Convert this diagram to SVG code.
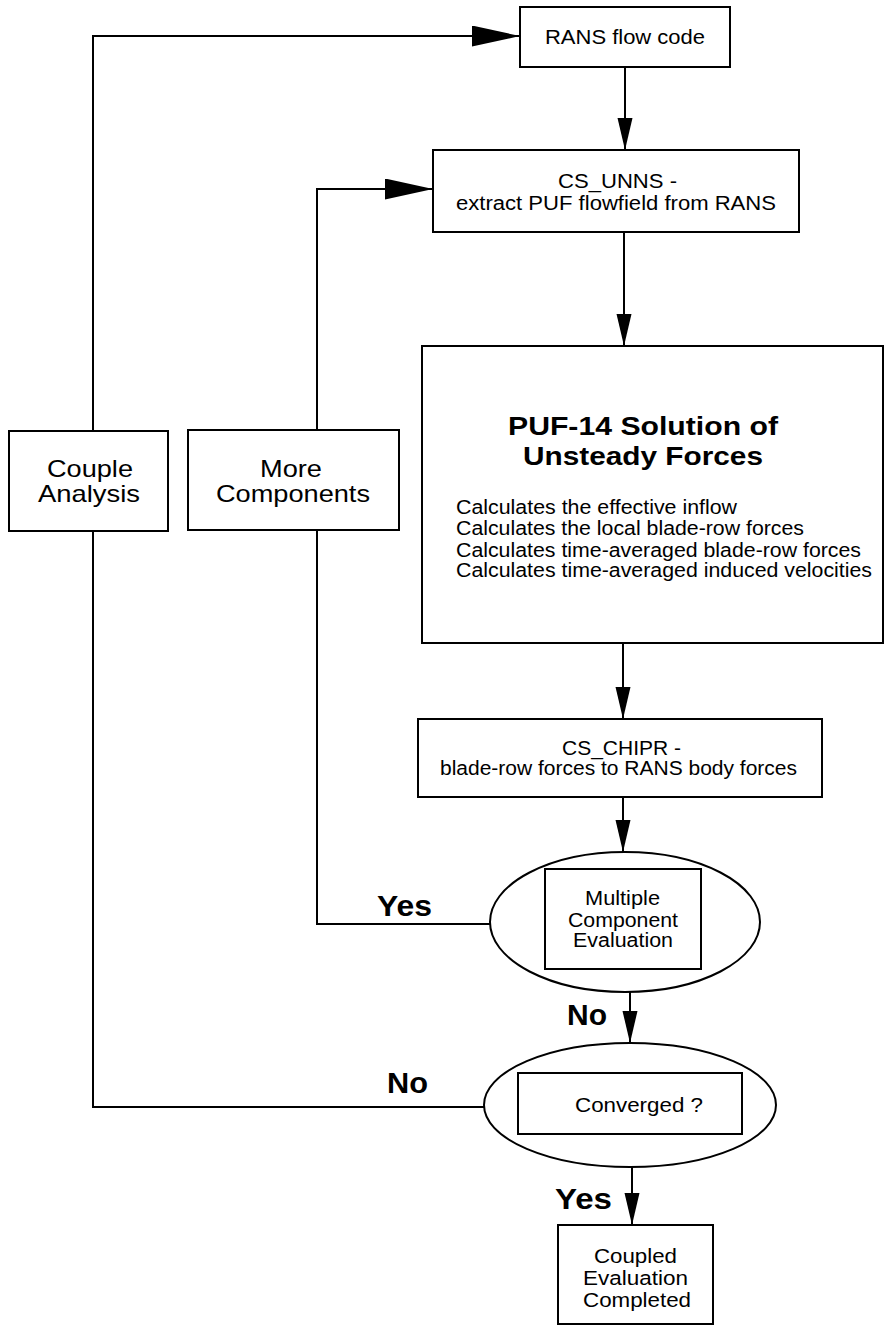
<svg xmlns="http://www.w3.org/2000/svg" width="884" height="1331" viewBox="0 0 884 1331">
<style>
  .box { fill: #fff; stroke: #000; stroke-width: 2; }
  .line { fill: none; stroke: #000; stroke-width: 2; }
  .t { font-family: "Liberation Sans", Arial, sans-serif; fill: #000; }
  .b { font-family: "Liberation Sans", Arial, sans-serif; font-weight: bold; fill: #000; }
</style>
<defs>
  <marker id="av" markerUnits="userSpaceOnUse" markerWidth="34" markerHeight="16" refX="32" refY="7.5" orient="auto">
    <path d="M0,0 L32,7.5 L0,15 z" fill="#000"/>
  </marker>
  <marker id="ah" markerUnits="userSpaceOnUse" markerWidth="50" markerHeight="22" refX="48" refY="10.5" orient="auto">
    <path d="M0,0 L48,10.5 L0,21 z" fill="#000"/>
  </marker>
</defs>
<rect width="884" height="1331" fill="#fff"/>

<g id="connectors">
  <path class="line" d="M93,431 V36 H520" marker-end="url(#ah)"/>
  <path class="line" d="M93,531 V1107 H484"/>
  <path class="line" d="M317,430 V189 H433" marker-end="url(#ah)"/>
  <path class="line" d="M317,530 V924 H490"/>
  <path class="line" d="M625,67 V150" marker-end="url(#av)"/>
  <path class="line" d="M624,232 V346" marker-end="url(#av)"/>
  <path class="line" d="M623,643 V719" marker-end="url(#av)"/>
  <path class="line" d="M623,797 V852" marker-end="url(#av)"/>
  <path class="line" d="M630,969 V1043" marker-end="url(#av)"/>
  <path class="line" d="M632,1167 V1225" marker-end="url(#av)"/>
</g>

<g id="rans">
  <rect class="box" x="520" y="7" width="210" height="60"/>
  <text class="t" x="545" y="44" font-size="21" textLength="160" lengthAdjust="spacingAndGlyphs">RANS flow code</text>
</g>

<g id="cs_unns">
  <rect class="box" x="433" y="150" width="366" height="82"/>
  <text class="t" x="558" y="188" font-size="20" textLength="119" lengthAdjust="spacingAndGlyphs">CS_UNNS -</text>
  <text class="t" x="456" y="210" font-size="20" textLength="320" lengthAdjust="spacingAndGlyphs">extract PUF flowfield from RANS</text>
</g>

<g id="puf">
  <rect class="box" x="422" y="346" width="461" height="297"/>
  <text class="b" x="508" y="435" font-size="26" textLength="270" lengthAdjust="spacingAndGlyphs">PUF-14 Solution of</text>
  <text class="b" x="523" y="465" font-size="26" textLength="240" lengthAdjust="spacingAndGlyphs">Unsteady Forces</text>
  <text class="t" x="456" y="514" font-size="20" textLength="281" lengthAdjust="spacingAndGlyphs">Calculates the effective inflow</text>
  <text class="t" x="456" y="535" font-size="20" textLength="348" lengthAdjust="spacingAndGlyphs">Calculates the local blade-row forces</text>
  <text class="t" x="456" y="557" font-size="20" textLength="405" lengthAdjust="spacingAndGlyphs">Calculates time-averaged blade-row forces</text>
  <text class="t" x="456" y="577" font-size="20" textLength="416" lengthAdjust="spacingAndGlyphs">Calculates time-averaged induced velocities</text>
</g>

<g id="couple">
  <rect class="box" x="9" y="431" width="159" height="100"/>
  <text class="t" x="47" y="477" font-size="24" textLength="86" lengthAdjust="spacingAndGlyphs">Couple</text>
  <text class="t" x="38" y="502" font-size="24" textLength="102" lengthAdjust="spacingAndGlyphs">Analysis</text>
</g>

<g id="more">
  <rect class="box" x="188" y="430" width="211" height="100"/>
  <text class="t" x="260" y="477" font-size="24" textLength="62" lengthAdjust="spacingAndGlyphs">More</text>
  <text class="t" x="216" y="502" font-size="24" textLength="154" lengthAdjust="spacingAndGlyphs">Components</text>
</g>

<g id="cs_chipr">
  <rect class="box" x="418" y="719" width="404" height="78"/>
  <text class="t" x="562" y="755" font-size="20" textLength="119" lengthAdjust="spacingAndGlyphs">CS_CHIPR -</text>
  <text class="t" x="440" y="775" font-size="20" textLength="357" lengthAdjust="spacingAndGlyphs">blade-row forces to RANS body forces</text>
</g>

<g id="multiple">
  <ellipse class="box" cx="625" cy="922" rx="135" ry="70"/>
  <rect class="box" x="545" y="869" width="156" height="100"/>
  <text class="t" x="585" y="905" font-size="19.5" textLength="75" lengthAdjust="spacingAndGlyphs">Multiple</text>
  <text class="t" x="568" y="927" font-size="19.5" textLength="110" lengthAdjust="spacingAndGlyphs">Component</text>
  <text class="t" x="573" y="947" font-size="19.5" textLength="100" lengthAdjust="spacingAndGlyphs">Evaluation</text>
</g>

<g id="converged">
  <ellipse class="box" cx="630" cy="1105" rx="146" ry="62"/>
  <rect class="box" x="518" y="1073" width="224" height="61"/>
  <text class="t" x="575" y="1112" font-size="21" textLength="128" lengthAdjust="spacingAndGlyphs">Converged ?</text>
</g>

<g id="completed">
  <rect class="box" x="558" y="1225" width="155" height="99"/>
  <text class="t" x="594" y="1263" font-size="20.5" textLength="83" lengthAdjust="spacingAndGlyphs">Coupled</text>
  <text class="t" x="583" y="1285" font-size="20.5" textLength="105" lengthAdjust="spacingAndGlyphs">Evaluation</text>
  <text class="t" x="583" y="1307" font-size="20.5" textLength="108" lengthAdjust="spacingAndGlyphs">Completed</text>
</g>

<g id="labels">
  <text class="b" x="377" y="916" font-size="30" textLength="55" lengthAdjust="spacingAndGlyphs">Yes</text>
  <text class="b" x="567" y="1025" font-size="30" textLength="40" lengthAdjust="spacingAndGlyphs">No</text>
  <text class="b" x="387" y="1093" font-size="30" textLength="41" lengthAdjust="spacingAndGlyphs">No</text>
  <text class="b" x="555" y="1209" font-size="30" textLength="57" lengthAdjust="spacingAndGlyphs">Yes</text>
</g>
</svg>
